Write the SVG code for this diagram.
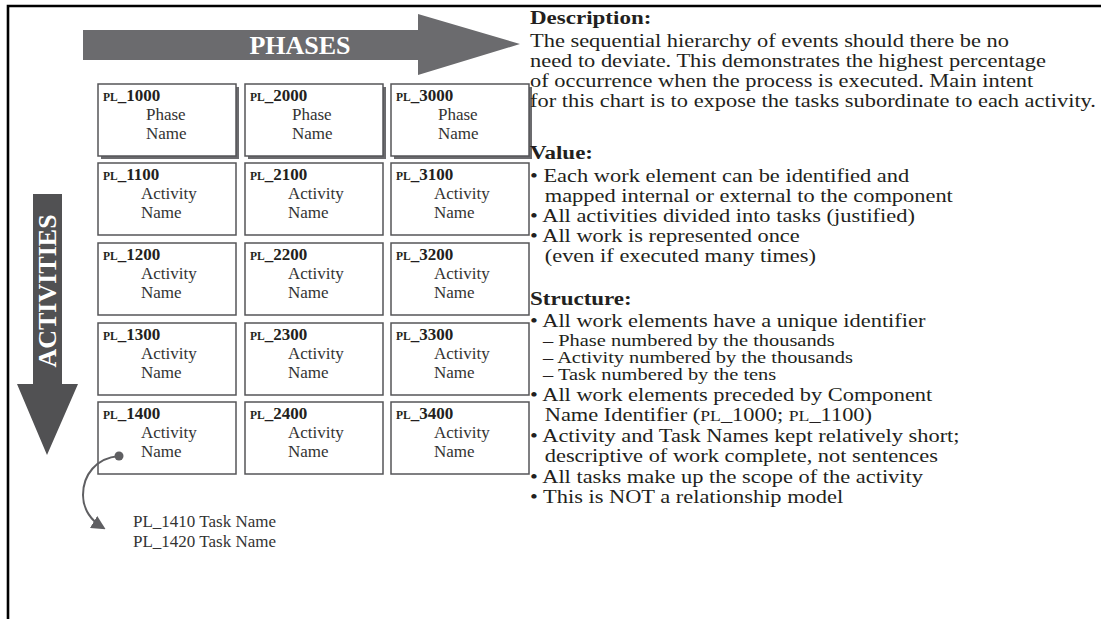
<svg xmlns="http://www.w3.org/2000/svg" width="1101" height="619" viewBox="0 0 1101 619">
  <style>
    .serif { font-family: "Liberation Serif", "Times New Roman", serif; fill: #231f20; }
    .box { fill: #ffffff; stroke: #555558; stroke-width: 1.5; }
    .shadow { fill: #6b6b6e; }
    .code { font-size: 17px; font-weight: bold; }
    .pl { font-size: 11.5px; font-weight: bold; }
    .name { font-size: 17px; fill: #333333; }
    .big { fill: #ffffff; font-weight: bold; font-size: 26px; font-family: "Liberation Serif", "Times New Roman", serif; }
    .head { font-size: 19.5px; font-weight: bold; }
    .body { font-size: 19px; }
    .sub { font-size: 17.3px; }
    .conn { fill: none; stroke: #5f5f62; stroke-width: 2; }
  </style>
  <defs>
    <marker id="arrow" viewBox="0 0 10 10" refX="7" refY="5" markerWidth="7" markerHeight="7" orient="auto" markerUnits="strokeWidth">
      <path d="M0,0 L10,5 L0,10 z" fill="#5f5f62"/>
    </marker>
  </defs>

  <rect width="1101" height="619" fill="#ffffff"/>

  <!-- frame -->
  <path d="M8,619 V6 H1101" fill="none" stroke="#000000" stroke-width="2.6"/>

  <!-- phases arrow -->
  <g id="phases-arrow">
    <path d="M83,30 H418 V14 L520,44 L418,75 V60 H83 Z" fill="#6b6b6e"/>
    <text class="big" x="300" y="54" text-anchor="middle">PHASES</text>
  </g>

  <!-- activities arrow -->
  <g id="activities-arrow">
    <path d="M33,194 H62 V384 H78 L47,455 L17,384 H33 Z" fill="#515153"/>
    <text class="big" transform="translate(56,291) rotate(-90)" text-anchor="middle">ACTIVITIES</text>
  </g>

  <!-- phase row -->
  <g id="pl-1000">
    <rect class="shadow" x="101" y="87" width="138" height="72"/>
    <rect class="box" x="98" y="84" width="138" height="72"/>
    <text class="serif" x="103" y="101"><tspan class="pl">PL</tspan><tspan class="code">_1000</tspan></text>
    <text class="serif name" x="146" y="120">Phase</text>
    <text class="serif name" x="146" y="139">Name</text>
  </g>
  <g id="pl-2000">
    <rect class="shadow" x="248" y="87" width="138" height="72"/>
    <rect class="box" x="245" y="84" width="138" height="72"/>
    <text class="serif" x="250" y="101"><tspan class="pl">PL</tspan><tspan class="code">_2000</tspan></text>
    <text class="serif name" x="292" y="120">Phase</text>
    <text class="serif name" x="292" y="139">Name</text>
  </g>
  <g id="pl-3000">
    <rect class="shadow" x="394" y="87" width="138" height="72"/>
    <rect class="box" x="391" y="84" width="138" height="72"/>
    <text class="serif" x="396" y="101"><tspan class="pl">PL</tspan><tspan class="code">_3000</tspan></text>
    <text class="serif name" x="438" y="120">Phase</text>
    <text class="serif name" x="438" y="139">Name</text>
  </g>

  <!-- activity rows -->
  <g id="pl-1100">
    <rect class="box" x="98" y="163" width="138" height="72"/>
    <text class="serif" x="103" y="180"><tspan class="pl">PL</tspan><tspan class="code">_1100</tspan></text>
    <text class="serif name" x="141" y="199">Activity</text>
    <text class="serif name" x="141" y="218">Name</text>
  </g>
  <g id="pl-2100">
    <rect class="box" x="245" y="163" width="138" height="72"/>
    <text class="serif" x="250" y="180"><tspan class="pl">PL</tspan><tspan class="code">_2100</tspan></text>
    <text class="serif name" x="288" y="199">Activity</text>
    <text class="serif name" x="288" y="218">Name</text>
  </g>
  <g id="pl-3100">
    <rect class="box" x="391" y="163" width="138" height="72"/>
    <text class="serif" x="396" y="180"><tspan class="pl">PL</tspan><tspan class="code">_3100</tspan></text>
    <text class="serif name" x="434" y="199">Activity</text>
    <text class="serif name" x="434" y="218">Name</text>
  </g>

  <g id="pl-1200">
    <rect class="box" x="98" y="243" width="138" height="72"/>
    <text class="serif" x="103" y="260"><tspan class="pl">PL</tspan><tspan class="code">_1200</tspan></text>
    <text class="serif name" x="141" y="279">Activity</text>
    <text class="serif name" x="141" y="298">Name</text>
  </g>
  <g id="pl-2200">
    <rect class="box" x="245" y="243" width="138" height="72"/>
    <text class="serif" x="250" y="260"><tspan class="pl">PL</tspan><tspan class="code">_2200</tspan></text>
    <text class="serif name" x="288" y="279">Activity</text>
    <text class="serif name" x="288" y="298">Name</text>
  </g>
  <g id="pl-3200">
    <rect class="box" x="391" y="243" width="138" height="72"/>
    <text class="serif" x="396" y="260"><tspan class="pl">PL</tspan><tspan class="code">_3200</tspan></text>
    <text class="serif name" x="434" y="279">Activity</text>
    <text class="serif name" x="434" y="298">Name</text>
  </g>

  <g id="pl-1300">
    <rect class="box" x="98" y="323" width="138" height="72"/>
    <text class="serif" x="103" y="340"><tspan class="pl">PL</tspan><tspan class="code">_1300</tspan></text>
    <text class="serif name" x="141" y="359">Activity</text>
    <text class="serif name" x="141" y="378">Name</text>
  </g>
  <g id="pl-2300">
    <rect class="box" x="245" y="323" width="138" height="72"/>
    <text class="serif" x="250" y="340"><tspan class="pl">PL</tspan><tspan class="code">_2300</tspan></text>
    <text class="serif name" x="288" y="359">Activity</text>
    <text class="serif name" x="288" y="378">Name</text>
  </g>
  <g id="pl-3300">
    <rect class="box" x="391" y="323" width="138" height="72"/>
    <text class="serif" x="396" y="340"><tspan class="pl">PL</tspan><tspan class="code">_3300</tspan></text>
    <text class="serif name" x="434" y="359">Activity</text>
    <text class="serif name" x="434" y="378">Name</text>
  </g>

  <g id="pl-1400">
    <rect class="box" x="98" y="402" width="138" height="72"/>
    <text class="serif" x="103" y="419"><tspan class="pl">PL</tspan><tspan class="code">_1400</tspan></text>
    <text class="serif name" x="141" y="438">Activity</text>
    <text class="serif name" x="141" y="457">Name</text>
  </g>
  <g id="pl-2400">
    <rect class="box" x="245" y="402" width="138" height="72"/>
    <text class="serif" x="250" y="419"><tspan class="pl">PL</tspan><tspan class="code">_2400</tspan></text>
    <text class="serif name" x="288" y="438">Activity</text>
    <text class="serif name" x="288" y="457">Name</text>
  </g>
  <g id="pl-3400">
    <rect class="box" x="391" y="402" width="138" height="72"/>
    <text class="serif" x="396" y="419"><tspan class="pl">PL</tspan><tspan class="code">_3400</tspan></text>
    <text class="serif name" x="434" y="438">Activity</text>
    <text class="serif name" x="434" y="457">Name</text>
  </g>

  <!-- task list under PL_1400 -->
  <g id="tasks-1400">
    <text class="serif name" x="133" y="527">PL_1410 Task Name</text>
    <text class="serif name" x="133" y="547">PL_1420 Task Name</text>
  </g>

  <!-- connectors -->
  <g id="connectors">
    <circle cx="119" cy="456" r="4.5" fill="#5f5f62"/>
    <path class="conn" d="M119,456 C96,458 83,475 83,495 C83,510 92,521 102,527" marker-end="url(#arrow)"/>
  </g>

  <!-- notes column, set a little wide: stretched 1.18x horizontally from x=530 -->
  <g id="notes" class="serif" transform="matrix(1.18,0,0,1,-95.4,0)">
    <text class="head" x="530" y="24">Description:</text>
    <text class="body" x="530" y="47">The sequential hierarchy of events should there be no</text>
    <text class="body" x="530" y="67">need to deviate. This demonstrates the highest percentage</text>
    <text class="body" x="530" y="87">of occurrence when the process is executed. Main intent</text>
    <text class="body" x="530" y="107">for this chart is to expose the tasks subordinate to each activity.</text>

    <text class="head" x="530" y="159">Value:</text>
    <text class="body" x="530" y="182">• Each work element can be identified and</text>
    <text class="body" x="542.5" y="202">mapped internal or external to the component</text>
    <text class="body" x="530" y="222">• All activities divided into tasks (justified)</text>
    <text class="body" x="530" y="242">• All work is represented once</text>
    <text class="body" x="542.5" y="262">(even if executed many times)</text>

    <text class="head" x="530" y="305">Structure:</text>
    <text class="body" x="530" y="327">• All work elements have a unique identifier</text>
    <text class="sub" x="541" y="346">– Phase numbered by the thousands</text>
    <text class="sub" x="541" y="363">– Activity numbered by the thousands</text>
    <text class="sub" x="541" y="380">– Task numbered by the tens</text>
    <text class="body" x="530" y="401">• All work elements preceded by Component</text>
    <text class="body" x="542.5" y="421">Name Identifier (<tspan font-size="15">PL</tspan>_1000; <tspan font-size="15">PL</tspan>_1100)</text>
    <text class="body" x="530" y="442">• Activity and Task Names kept relatively short;</text>
    <text class="body" x="542.5" y="462">descriptive of work complete, not sentences</text>
    <text class="body" x="530" y="483">• All tasks make up the scope of the activity</text>
    <text class="body" x="530" y="503">• This is NOT a relationship model</text>
  </g>
</svg>
